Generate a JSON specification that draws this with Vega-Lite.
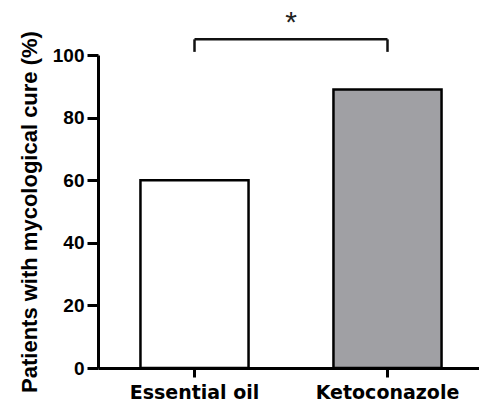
{
  "$schema": "https://vega.github.io/schema/vega-lite/v6.json",
  "width": 386,
  "height": 313,
  "autosize": "none",
  "padding": {"left": 98, "top": 55, "right": 0, "bottom": 37},
  "background": "white",
  "config": {"view": {"stroke": null}, "font": "Liberation Sans"},
  "resolve": {"scale": {"x": "independent"}},
  "layer": [
    {
      "data": {"values": [
        {"treatment": "Essential oil", "cure": 60},
        {"treatment": "Ketoconazole", "cure": 89}
      ]},
      "mark": {"type": "bar", "stroke": "black", "strokeWidth": 2.5},
      "encoding": {
        "x": {
          "field": "treatment", "type": "nominal", "sort": null,
          "scale": {"paddingInner": 0.44, "paddingOuter": 0.22},
          "axis": {
            "title": null, "labelAngle": 0, "labelFontSize": 19, "labelFontWeight": "bold",
            "labelColor": "black", "labelPadding": 6, "labelFont": "DejaVu Sans",
            "tickSize": 9, "tickWidth": 3, "tickColor": "black",
            "domainWidth": 3, "domainColor": "black", "grid": false
          }
        },
        "y": {
          "field": "cure", "type": "quantitative",
          "scale": {"domain": [0, 100], "nice": false},
          "axis": {
            "title": "Patients with mycological cure (%)",
            "titleFontSize": 22, "titleFontWeight": "bold", "titleColor": "black", "titlePadding": 11,
            "values": [0, 20, 40, 60, 80, 100],
            "labelFontSize": 19, "labelFontWeight": "bold", "labelColor": "black", "labelPadding": 3,
            "tickSize": 11, "tickWidth": 3, "tickColor": "black",
            "domainWidth": 3, "domainColor": "black", "grid": false
          }
        },
        "fill": {
          "field": "treatment", "type": "nominal",
          "scale": {"domain": ["Essential oil", "Ketoconazole"], "range": ["white", "#a0a0a4"]},
          "legend": null
        }
      }
    },
    {
      "data": {"values": [
        {"from": 0.5, "to": 1.5, "mid": 1, "low": 101, "high": 105, "star": 107.5, "label": "*"}
      ]},
      "layer": [
        {
          "mark": {"type": "rule", "strokeWidth": 2.5, "color": "#111"},
          "encoding": {
            "x": {"field": "from", "type": "quantitative", "scale": {"domain": [0, 2]}, "axis": null},
            "x2": {"field": "to"},
            "y": {"field": "high", "type": "quantitative"}
          }
        },
        {
          "mark": {"type": "rule", "strokeWidth": 2.5, "color": "#111"},
          "encoding": {
            "x": {"field": "from", "type": "quantitative"},
            "y": {"field": "low", "type": "quantitative"},
            "y2": {"field": "high"}
          }
        },
        {
          "mark": {"type": "rule", "strokeWidth": 2.5, "color": "#111"},
          "encoding": {
            "x": {"field": "to", "type": "quantitative"},
            "y": {"field": "low", "type": "quantitative"},
            "y2": {"field": "high"}
          }
        },
        {
          "mark": {"type": "text", "fontSize": 30, "baseline": "alphabetic", "color": "#222"},
          "encoding": {
            "x": {"field": "mid", "type": "quantitative"},
            "y": {"field": "star", "type": "quantitative"},
            "text": {"field": "label"}
          }
        }
      ]
    }
  ]
}
